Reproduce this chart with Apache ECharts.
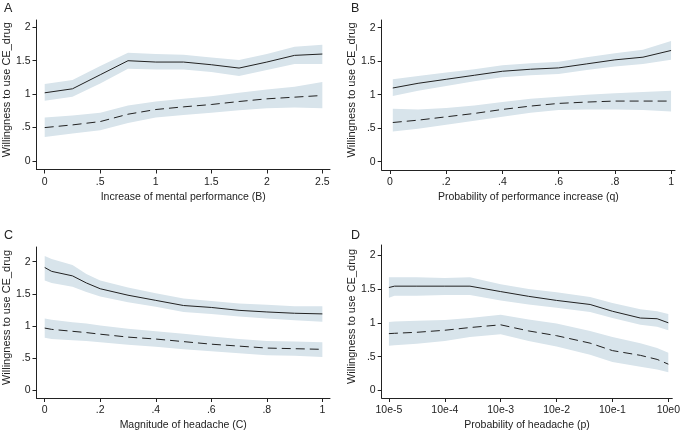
<!DOCTYPE html>
<html>
<head>
<meta charset="utf-8">
<script src="https://cdn.jsdelivr.net/npm/echarts@6/dist/echarts.min.js"></script>
<style>html,body{margin:0;padding:0;background:#fff}#c{width:683px;height:433px}</style>
</head>
<body>
<div id="c"></div>
<script>
// ---- Panel A: Increase of mental performance (B)
var aX       = [0, 0.25, 0.5, 0.75, 1, 1.25, 1.5, 1.75, 2, 2.25, 2.5];
var aSolid   = [1.02, 1.08, 1.29, 1.50, 1.48, 1.48, 1.44, 1.39, 1.48, 1.58, 1.60];
var aSolidLo = [0.90, 0.96, 1.16, 1.38, 1.37, 1.37, 1.33, 1.27, 1.36, 1.45, 1.45];
var aSolidHi = [1.15, 1.21, 1.42, 1.62, 1.60, 1.59, 1.55, 1.51, 1.60, 1.71, 1.74];
var aDash    = [0.50, 0.54, 0.59, 0.70, 0.77, 0.81, 0.845, 0.89, 0.93, 0.955, 0.98];
var aDashLo  = [0.36, 0.41, 0.46, 0.57, 0.65, 0.69, 0.72, 0.76, 0.79, 0.80, 0.79];
var aDashHi  = [0.65, 0.68, 0.72, 0.83, 0.89, 0.93, 0.97, 1.02, 1.07, 1.11, 1.18];
var aTicks   = [0, 0.5, 1, 1.5, 2, 2.5];

// ---- Panel B: Probability of performance increase (q)
var bX       = [0.01, 0.1, 0.2, 0.3, 0.4, 0.5, 0.6, 0.7, 0.8, 0.9, 1.0];
var bSolid   = [1.10, 1.17, 1.23, 1.29, 1.35, 1.38, 1.40, 1.46, 1.52, 1.56, 1.66];
var bSolidLo = [0.98, 1.06, 1.13, 1.20, 1.26, 1.29, 1.31, 1.37, 1.42, 1.46, 1.52];
var bSolidHi = [1.23, 1.28, 1.33, 1.38, 1.44, 1.47, 1.49, 1.56, 1.62, 1.67, 1.80];
var bDash    = [0.585, 0.62, 0.67, 0.72, 0.78, 0.83, 0.87, 0.89, 0.905, 0.905, 0.905];
var bDashLo  = [0.45, 0.49, 0.55, 0.61, 0.67, 0.73, 0.77, 0.78, 0.78, 0.77, 0.75];
var bDashHi  = [0.79, 0.78, 0.80, 0.84, 0.89, 0.94, 0.97, 1.00, 1.02, 1.04, 1.06];
var bTicks   = [0, 0.2, 0.4, 0.6, 0.8, 1];

// ---- Panel C: Magnitude of headache (C)
var cX       = [0, 0.025, 0.1, 0.15, 0.2, 0.3, 0.4, 0.5, 0.6, 0.7, 0.8, 0.9, 1.0];
var cSolid   = [1.91, 1.85, 1.78, 1.67, 1.58, 1.48, 1.40, 1.32, 1.29, 1.245, 1.22, 1.20, 1.19];
var cSolidLo = [1.71, 1.67, 1.61, 1.53, 1.46, 1.37, 1.30, 1.22, 1.19, 1.15, 1.12, 1.09, 1.07];
var cSolidHi = [2.09, 2.04, 1.95, 1.81, 1.71, 1.60, 1.51, 1.43, 1.39, 1.35, 1.33, 1.31, 1.31];
var cDash    = [0.97, 0.95, 0.92, 0.90, 0.875, 0.83, 0.80, 0.76, 0.72, 0.69, 0.66, 0.65, 0.64];
var cDashLo  = [0.82, 0.80, 0.78, 0.77, 0.75, 0.71, 0.68, 0.64, 0.61, 0.58, 0.55, 0.54, 0.52];
var cDashHi  = [1.12, 1.10, 1.06, 1.04, 1.01, 0.96, 0.92, 0.88, 0.84, 0.80, 0.77, 0.76, 0.75];
var cTicks   = [0, 0.2, 0.4, 0.6, 0.8, 1];

// ---- Panel D: Probability of headache (p), x = log10 exponent
var dX       = [-5, -4.9, -4.5, -4, -3.55, -3, -2.5, -2, -1.4, -1, -0.5, -0.2, 0];
var dSolid   = [1.52, 1.54, 1.54, 1.54, 1.54, 1.46, 1.39, 1.33, 1.27, 1.17, 1.07, 1.06, 1.00];
var dSolidLo = [1.37, 1.40, 1.40, 1.41, 1.41, 1.33, 1.27, 1.22, 1.16, 1.07, 0.97, 0.94, 0.89];
var dSolidHi = [1.67, 1.67, 1.67, 1.66, 1.67, 1.57, 1.50, 1.45, 1.38, 1.29, 1.20, 1.17, 1.13];
var dDash    = [0.84, 0.845, 0.86, 0.89, 0.93, 0.97, 0.88, 0.81, 0.70, 0.59, 0.52, 0.46, 0.39];
var dDashLo  = [0.66, 0.67, 0.69, 0.73, 0.79, 0.83, 0.73, 0.65, 0.53, 0.42, 0.35, 0.31, 0.27];
var dDashHi  = [1.01, 1.02, 1.03, 1.04, 1.07, 1.12, 1.05, 0.99, 0.88, 0.79, 0.70, 0.63, 0.56];
var dTicks   = [-5, -4, -3, -2, -1, 0];
var dTickLabels = ['10e-5', '10e-4', '10e-3', '10e-2', '10e-1', '10e0'];

var yTicks = [0, 0.5, 1, 1.5, 2];
var yTickLabels = ['0', '.5', '1', '1.5', '2'];

var xTitles = ['Increase of mental performance (B)', 'Probability of performance increase (q)',
               'Magnitude of headache (C)', 'Probability of headache (p)'];
var yTitle = 'Willingness to use CE_drug';
var panelLetters = ['A', 'B', 'C', 'D'];

var BAND = '#d8e4eb';
var INK = '#222';
var FONT = 'Liberation Sans, Arial, sans-serif';

function fmtX(v) {
  var s = String(Math.round(v * 1000) / 1000);
  if (s.indexOf('0.') === 0) s = s.substring(1);
  return s;
}
function fmtY(v) {
  var i = yTicks.indexOf(Math.round(v * 100) / 100);
  return i >= 0 ? yTickLabels[i] : '';
}

var grids = [
  {left: 34, top: 20, width: 296, height: 149.5},
  {left: 381.7, top: 20, width: 293.3, height: 150},
  {left: 34, top: 247, width: 296, height: 151},
  {left: 381.7, top: 245, width: 293.3, height: 153}
];
var xRanges = [[-0.074, 2.569], [-0.0295, 1.014], [-0.0296, 1.0275], [-5.129, 0.071]];
var yRanges = [[-0.127, 2.109], [-0.124, 2.115], [-0.115, 2.228], [-0.109, 2.147]];
var xTickSets = [aTicks, bTicks, cTicks, dTicks];

var xAxes = [], yAxes = [];
for (var i = 0; i < 4; i++) {
  (function (i) {
    xAxes.push({
      type: 'value', gridIndex: i, min: xRanges[i][0], max: xRanges[i][1],
      axisLine: {show: true, onZero: false, lineStyle: {color: INK, width: 1}},
      axisTick: {show: true, length: 4, lineStyle: {color: INK}, customValues: xTickSets[i]},
      axisLabel: {
        color: INK, fontSize: 10.5, fontFamily: FONT, margin: 7,
        customValues: xTickSets[i],
        formatter: i === 3 ? function (v) { return dTickLabels[dTicks.indexOf(Math.round(v))]; } : fmtX
      },
      splitLine: {show: false},
      name: xTitles[i], nameLocation: 'middle', nameGap: 22,
      nameTextStyle: {color: INK, fontSize: 10.5, fontFamily: FONT}
    });
    yAxes.push({
      type: 'value', gridIndex: i, min: yRanges[i][0], max: yRanges[i][1],
      axisLine: {show: true, onZero: false, lineStyle: {color: INK, width: 1}},
      axisTick: {show: true, length: 4, lineStyle: {color: INK}, customValues: yTicks},
      axisLabel: {color: INK, fontSize: 10.5, fontFamily: FONT, margin: 6,
        customValues: yTicks, formatter: fmtY},
      splitLine: {show: false},
      name: yTitle, nameLocation: 'middle', nameGap: 18, nameRotate: 90,
      nameTextStyle: {color: INK, fontSize: 11, fontFamily: FONT, padding: [0, 0, 0, 10]}
    });
  })(i);
}

function pairs(xs, ys) { return xs.map(function (x, k) { return [x, ys[k]]; }); }
function triples(xs, lo, hi) { return xs.map(function (x, k) { return [x, lo[k], hi[k]]; }); }

var panels = [
  [aX, aSolid, aSolidLo, aSolidHi, aDash, aDashLo, aDashHi],
  [bX, bSolid, bSolidLo, bSolidHi, bDash, bDashLo, bDashHi],
  [cX, cSolid, cSolidLo, cSolidHi, cDash, cDashLo, cDashHi],
  [dX, dSolid, dSolidLo, dSolidHi, dDash, dDashLo, dDashHi]
];

function bandSeries(i, data) {
  return {
    type: 'custom', xAxisIndex: i, yAxisIndex: i, z: 1, silent: true,
    encode: {x: 0, y: [1, 2]},
    data: data,
    renderItem: function (params, api) {
      if (params.dataIndexInside !== 0) return null;
      var top = [], bot = [];
      for (var k = 0; k < data.length; k++) {
        top.push(api.coord([data[k][0], data[k][2]]));
        bot.unshift(api.coord([data[k][0], data[k][1]]));
      }
      return {type: 'polygon', shape: {points: top.concat(bot)},
        style: {fill: BAND, stroke: null}};
    }
  };
}

var series = [];
panels.forEach(function (p, i) {
  var xs = p[0];
  series.push(bandSeries(i, triples(xs, p[2], p[3])));
  series.push(bandSeries(i, triples(xs, p[5], p[6])));
  series.push({type: 'line', xAxisIndex: i, yAxisIndex: i, symbol: 'none', z: 3,
    lineStyle: {color: INK, width: 1}, data: pairs(xs, p[1])});
  series.push({type: 'line', xAxisIndex: i, yAxisIndex: i, symbol: 'none', z: 3,
    lineStyle: {color: INK, width: 1, type: [9, 5]}, data: pairs(xs, p[4])});
});

var letterPos = [[4, 2], [351, 2], [4, 229], [351, 229]];
var graphics = panelLetters.map(function (t, i) {
  return {type: 'text', left: letterPos[i][0], top: letterPos[i][1],
    style: {text: t, fill: INK, fontSize: 12.5, fontFamily: FONT}};
});

var chart = echarts.init(document.getElementById('c'), null, {renderer: 'canvas'});
chart.setOption({
  backgroundColor: '#fff',
  animation: false,
  grid: grids,
  xAxis: xAxes,
  yAxis: yAxes,
  series: series,
  graphic: graphics
});
</script>
</body>
</html>
